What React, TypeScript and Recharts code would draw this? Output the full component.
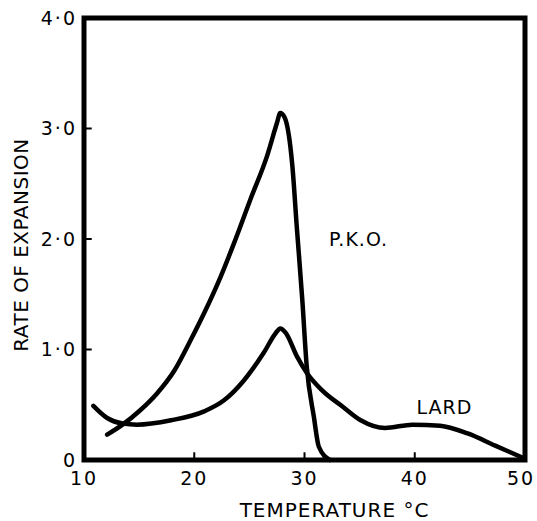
import React from "react"
import {
  LineChart,
  Line,
  XAxis,
  YAxis,
  ReferenceArea,
  ReferenceLine,
  ReferenceDot,
} from "recharts"

// temperature (°C) vs rate of expansion
const pkoData = [
  { t: 12.1, rate: 0.23 },
  { t: 13.5, rate: 0.32 },
  { t: 15.1, rate: 0.45 },
  { t: 16.6, rate: 0.6 },
  { t: 18.2, rate: 0.81 },
  { t: 19.7, rate: 1.09 },
  { t: 20.9, rate: 1.33 },
  { t: 22.4, rate: 1.66 },
  { t: 23.6, rate: 1.96 },
  { t: 25.1, rate: 2.36 },
  { t: 26.6, rate: 2.75 },
  { t: 27.5, rate: 3.05 },
  { t: 27.8, rate: 3.14 },
  { t: 28.2, rate: 3.1 },
  { t: 28.9, rate: 2.66 },
  { t: 29.3, rate: 2.11 },
  { t: 29.8, rate: 1.45 },
  { t: 30.2, rate: 0.85 },
  { t: 30.85, rate: 0.39 },
  { t: 31.3, rate: 0.12 },
  { t: 32.3, rate: 0 },
]

const lardData = [
  { t: 10.85, rate: 0.49 },
  { t: 12.1, rate: 0.38 },
  { t: 13.5, rate: 0.33 },
  { t: 14.8, rate: 0.32 },
  { t: 17.9, rate: 0.36 },
  { t: 20.9, rate: 0.44 },
  { t: 22.7, rate: 0.54 },
  { t: 24.5, rate: 0.72 },
  { t: 26.3, rate: 0.97 },
  { t: 27.4, rate: 1.15 },
  { t: 27.8, rate: 1.19 },
  { t: 28.3, rate: 1.15 },
  { t: 29.3, rate: 0.94 },
  { t: 30.2, rate: 0.79 },
  { t: 31.6, rate: 0.63 },
  { t: 33.5, rate: 0.48 },
  { t: 35.1, rate: 0.36 },
  { t: 37.3, rate: 0.29 },
  { t: 39.8, rate: 0.32 },
  { t: 42.3, rate: 0.31 },
  { t: 44.8, rate: 0.24 },
  { t: 47.3, rate: 0.13 },
  { t: 49.8, rate: 0.02 },
]

const xTicks = [10, 20, 30, 40, 50]
const yTicks = [0, 1, 2, 3, 4]
const xInnerTicks = [20, 30, 40]
const yInnerTicks = [1, 2, 3]

const font = "'DejaVu Sans', sans-serif"
const tickStyle = { fontSize: 19, fill: "#000", fontFamily: font, letterSpacing: 2 }

const fmtY = (v: number) => (v === 0 ? "0" : v.toFixed(1).replace(".", "·"))

// x tick labels; the last one is nudged left so it stays on the page
function XTick(props: any) {
  const { x, y, payload } = props
  const shift = payload.value === 50 ? -4 : 0
  return (
    <text
      x={x + shift}
      y={y}
      dy="0.71em"
      textAnchor="middle"
      fontSize={19}
      fontFamily={font}
      letterSpacing={2}
      fill="#000"
    >
      {payload.value}
    </text>
  )
}

export default function App() {
  return (
    <div style={{ position: "absolute", left: 0, top: 0, background: "#fff" }}>
      <LineChart
        width={537}
        height={521}
        margin={{ top: 18, right: 12, bottom: 0, left: 0 }}
      >
        <XAxis
          type="number"
          dataKey="t"
          domain={[10, 50]}
          ticks={xTicks}
          tick={<XTick />}
          tickLine={false}
          axisLine={false}
          tickMargin={6}
          height={61}
          label={{
            value: "TEMPERATURE °C",
            position: "insideBottom",
            offset: 4,
            dx: 30,
            style: { fontSize: 20, fill: "#000", fontFamily: font, letterSpacing: 1 },
          }}
        />
        <YAxis
          type="number"
          dataKey="rate"
          domain={[0, 4]}
          ticks={yTicks}
          tickFormatter={fmtY}
          tick={tickStyle}
          tickLine={false}
          axisLine={false}
          tickMargin={1}
          width={84}
          label={{
            value: "RATE OF EXPANSION",
            angle: -90,
            position: "insideLeft",
            offset: 21,
            dy: 6,
            style: {
              fontSize: 20,
              fill: "#000",
              fontFamily: font,
              letterSpacing: 0.5,
              textAnchor: "middle",
            },
          }}
        />
        <ReferenceArea
          x1={10}
          x2={50}
          y1={0}
          y2={4}
          fill="none"
          stroke="#000"
          strokeWidth={5}
          fillOpacity={0}
          strokeOpacity={1}
        />
        {xInnerTicks.map((t) => (
          <ReferenceLine
            key={"x" + t}
            segment={[
              { x: t, y: 0 },
              { x: t, y: 0.07 },
            ]}
            stroke="#000"
            strokeWidth={2}
          />
        ))}
        {yInnerTicks.map((v) => (
          <ReferenceLine
            key={"y" + v}
            segment={[
              { x: 10, y: v },
              { x: 10.7, y: v },
            ]}
            stroke="#000"
            strokeWidth={2}
          />
        ))}
        <Line
          data={pkoData}
          dataKey="rate"
          type="monotone"
          stroke="#000"
          strokeWidth={4.5}
          strokeLinecap="round"
          dot={false}
          isAnimationActive={false}
        />
        <Line
          data={lardData}
          dataKey="rate"
          type="monotone"
          stroke="#000"
          strokeWidth={4.5}
          strokeLinecap="round"
          dot={false}
          isAnimationActive={false}
        />
        <ReferenceDot
          x={34.9}
          y={2.0}
          r={0}
          fill="none"
          stroke="none"
          label={{
            value: "P.K.O.",
            position: "center",
            style: { fontSize: 19, fill: "#000", fontFamily: font, letterSpacing: 1 },
          }}
        />
        <ReferenceDot
          x={42.7}
          y={0.475}
          r={0}
          fill="none"
          stroke="none"
          label={{
            value: "LARD",
            position: "center",
            style: { fontSize: 19, fill: "#000", fontFamily: font, letterSpacing: 1 },
          }}
        />
      </LineChart>
    </div>
  )
}
